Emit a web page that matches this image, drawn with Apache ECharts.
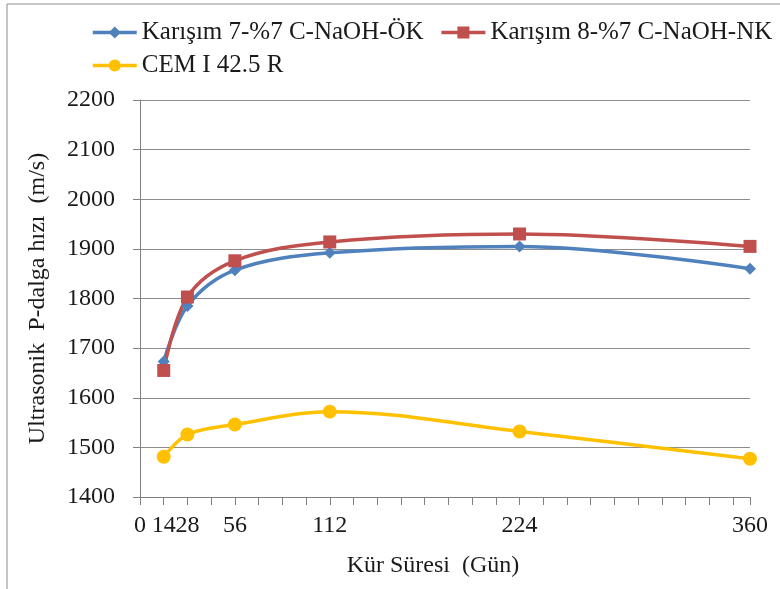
<!DOCTYPE html>
<html>
<head>
<meta charset="utf-8">
<script src="https://cdn.jsdelivr.net/npm/echarts@6/dist/echarts.min.js"></script>
<style>html,body{margin:0;padding:0;background:#fff}#c{width:780px;height:589px}</style>
</head>
<body>
<div id="c"></div>
<script>
const days = [14, 28, 56, 112, 224, 360];
const tickLabels = [0, 14, 28, 56, 112, 224, 360];
const seriesNames = ['Karışım 7-%7 C-NaOH-ÖK', 'Karışım 8-%7 C-NaOH-NK', 'CEM I 42.5 R'];
const mix7 = [1673, 1785, 1857, 1892, 1905, 1860];
const mix8 = [1655, 1803, 1876, 1914, 1930, 1905];
const cem = [1481, 1526, 1546, 1572, 1532, 1477];

const font = 'Liberation Serif';
const txt = '#1a1a1a';
const pair = (ys) => days.map((d, i) => [d, ys[i]]);
const chart = echarts.init(document.getElementById('c'));
const legendBase = { itemWidth: 44, itemHeight: 15, lineStyle: { width: 3.5 },
  textStyle: { fontFamily: font, fontSize: 25, color: txt } };
chart.setOption({
  animation: false,
  textStyle: { fontFamily: font },
  graphic: [{ type: 'rect', shape: { x: 7, y: 4, width: 800, height: 620 }, style: { fill: 'none', stroke: '#8c8c8c', lineWidth: 1 }, silent: true }],
  legend: [
    Object.assign({ data: [seriesNames[0], seriesNames[1]], left: 86, top: 15, itemGap: 16 }, legendBase),
    Object.assign({ data: [seriesNames[2]], left: 86, top: 48 }, legendBase)
  ],
  grid: { left: 140, right: 30, top: 100, bottom: 92, containLabel: false },
  xAxis: {
    type: 'value', min: 0, max: 360, interval: 14,
    name: 'Kür Süresi  (Gün)', nameLocation: 'middle', nameGap: 57,
    nameTextStyle: { fontFamily: font, fontSize: 24, color: txt, padding: [0, 24, 0, 0] },
    axisLine: { show: true, lineStyle: { color: '#808080', width: 1 } },
    axisTick: { show: true, inside: false, length: 8, interval: 0, lineStyle: { color: '#808080', width: 1 } },
    axisLabel: { margin: 17, fontFamily: font, fontSize: 24, color: txt,
      formatter: v => tickLabels.indexOf(v) >= 0 ? String(v) : '' },
    splitLine: { show: false }
  },
  yAxis: {
    type: 'value', min: 1400, max: 2200, interval: 100,
    name: 'Ultrasonik  P-dalga hızı  (m/s)', nameLocation: 'middle', nameGap: 90,
    nameTextStyle: { fontFamily: font, fontSize: 24, color: txt },
    axisLine: { show: true, lineStyle: { color: '#808080', width: 1 } },
    axisTick: { show: true, length: 7, lineStyle: { color: '#808080' } },
    axisLabel: { margin: 25, fontFamily: font, fontSize: 24, color: txt, formatter: v => String(v) },
    splitLine: { show: true, lineStyle: { color: '#8c8c8c', width: 1 } }
  },
  series: [
    { name: seriesNames[0], type: 'line', data: pair(mix7), smooth: 0.35, symbol: 'diamond', symbolSize: 12,
      lineStyle: { width: 3.5, color: '#4F81BD' }, itemStyle: { color: '#4F81BD' } },
    { name: seriesNames[1], type: 'line', data: pair(mix8), smooth: 0.35, symbol: 'rect', symbolSize: 13,
      lineStyle: { width: 3.5, color: '#C0504D' }, itemStyle: { color: '#C0504D' } },
    { name: seriesNames[2], type: 'line', data: pair(cem), smooth: 0.35, symbol: 'circle', symbolSize: 14,
      lineStyle: { width: 3.5, color: '#FFC000' }, itemStyle: { color: '#FFC000' } }
  ]
});
</script>
</body>
</html>
